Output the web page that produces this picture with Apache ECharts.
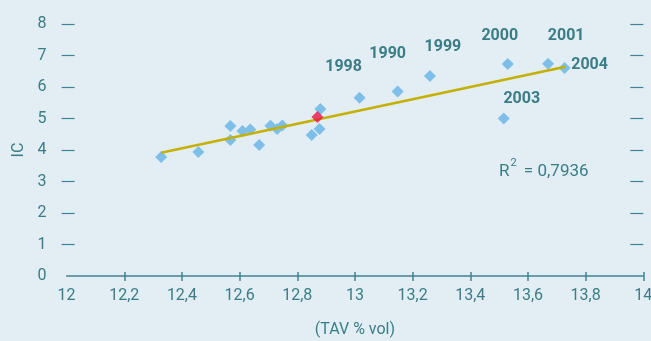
<!DOCTYPE html>
<html>
<head>
<meta charset="utf-8">
<script src="https://cdn.jsdelivr.net/npm/echarts@6/dist/echarts.min.js"></script>
<style>
html,body{margin:0;padding:0;background:#e3edf4;}
#c{width:651px;height:341px;}
</style>
</head>
<body>
<div id="c"></div>
<script>
// ---- data ----
var tavValues = [12.328, 12.457, 12.568, 12.568, 12.61, 12.637, 12.668, 12.707, 12.73, 12.748, 12.85, 12.877, 12.88, 13.016, 13.148, 13.26, 13.516, 13.53, 13.67, 13.727];
var icValues  = [3.78, 3.94, 4.76, 4.32, 4.6, 4.65, 4.16, 4.77, 4.67, 4.78, 4.48, 4.67, 5.3, 5.66, 5.86, 6.35, 5.0, 6.73, 6.74, 6.6];
var yearLabels = ['', '', '', '', '', '', '', '', '', '', '', '', '', '1998', '1990', '1999', '2003', '2000', '2001', '2004'];
var highlightPoint = [12.87, 5.05];
var trendX = [12.328, 13.73];
var trendY = [3.91, 6.64];
var xTicks = [12, 12.2, 12.4, 12.6, 12.8, 13, 13.2, 13.4, 13.6, 13.8, 14];
var yTicks = [0, 1, 2, 3, 4, 5, 6, 7, 8];
var r2Value = '0,7936';
var xName = '(TAV % vol)';
var yName = 'IC';

// ---- styles ----
var teal = '#3a7d86';
var axisCol = '#3f8494';
var fontFam = 'Roboto, "Liberation Sans", sans-serif';
var labelOffsets = {
  '1998': [-16, -31], '1990': [-10, -37], '1999': [13, -29], '2000': [-8, -28],
  '2001': [18, -28], '2004': [25, -3], '2003': [18, -20]
};

var scatterData = tavValues.map(function (x, i) {
  var item = { value: [x, icValues[i]] };
  var yr = yearLabels[i];
  if (yr) {
    item.label = {
      show: true, formatter: yr, position: 'inside', offset: labelOffsets[yr],
      color: teal, fontWeight: 'bold', fontSize: 16, fontFamily: fontFam
    };
  }
  return item;
});
var trendData = trendX.map(function (x, i) { return [x, trendY[i]]; });
var tickVals = xTicks.slice(1);
var yTickVals = yTicks.slice(1);

var chart = echarts.init(document.getElementById('c'));
chart.setOption({
  backgroundColor: '#e3edf4',
  animation: false,
  textStyle: { fontFamily: fontFam },
  grid: { left: 66.6, right: 7.7, top: 24, bottom: 65, outerBoundsMode: 'none', containLabel: false },
  xAxis: [{
    type: 'value', min: xTicks[0], max: xTicks[xTicks.length - 1], interval: 0.2,
    axisLine: { show: true, lineStyle: { color: axisCol, width: 1.5 } },
    axisTick: { show: true, inside: true, length: 4, customValues: tickVals, lineStyle: { color: axisCol, width: 1.5 } },
    splitLine: { show: false },
    axisLabel: { color: teal, fontSize: 16, margin: 12, fontFamily: fontFam,
      formatter: function (v) { return String(Math.round(v * 10) / 10).replace('.', ','); } },
    name: xName, nameLocation: 'middle', nameGap: 46,
    nameTextStyle: { color: teal, fontSize: 16, fontFamily: fontFam }
  }, {
    type: 'value', min: xTicks[0], max: xTicks[xTicks.length - 1], interval: 0.2, position: 'bottom',
    axisLine: { show: false },
    axisTick: { show: true, inside: false, length: 5, customValues: tickVals, lineStyle: { color: axisCol, width: 1.5 } },
    axisLabel: { show: false }, splitLine: { show: false }
  }],
  yAxis: [{
    type: 'value', min: yTicks[0], max: yTicks[yTicks.length - 1], interval: 1, offset: 5,
    axisLine: { show: false },
    axisTick: { show: true, inside: true, length: 13, customValues: yTickVals, lineStyle: { color: axisCol, width: 1.2 } },
    splitLine: { show: false },
    axisLabel: { color: teal, fontSize: 16, margin: 15, fontFamily: fontFam, padding: [0, 0, 7, 0] },
    name: yName, nameLocation: 'middle', nameRotate: 90, nameGap: 30,
    nameTextStyle: { color: teal, fontSize: 16, fontFamily: fontFam }
  }, {
    type: 'value', position: 'right', min: yTicks[0], max: yTicks[yTicks.length - 1], interval: 1,
    axisLine: { show: false },
    axisTick: { show: true, inside: true, length: 13, customValues: yTickVals, lineStyle: { color: axisCol, width: 1.2 } },
    splitLine: { show: false }, axisLabel: { show: false }
  }],
  series: [{
    type: 'scatter', symbol: 'diamond', symbolSize: 12, z: 2,
    itemStyle: { color: '#7dbfe8', opacity: 1 },
    data: scatterData
  }, {
    type: 'line', data: trendData, symbol: 'none', z: 3,
    lineStyle: { color: '#c4b000', width: 2.5 }
  }, {
    type: 'scatter', symbol: 'diamond', symbolSize: 12, z: 4,
    itemStyle: { color: '#e8174a' },
    data: [highlightPoint]
  }],
  graphic: [{
    type: 'text', left: 499, top: 158,
    style: {
      text: '{r|R}{s|2}{r| = ' + r2Value + '}',
      rich: {
        r: { fill: teal, fontSize: 17, fontFamily: fontFam, lineHeight: 22, verticalAlign: 'bottom' },
        s: { fill: teal, fontSize: 11, fontFamily: fontFam, lineHeight: 22, verticalAlign: 'top', padding: [0, 3, 10, 1] }
      }
    }
  }]
});
</script>
</body>
</html>
